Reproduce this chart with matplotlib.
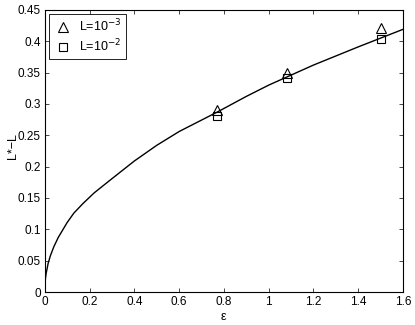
import numpy as np
import matplotlib
matplotlib.use("Agg")
import matplotlib.pyplot as plt
from matplotlib.ticker import FormatStrFormatter

# curve (eps vs L*-L)
curve_eps = [0, 0.001, 0.003, 0.006, 0.01, 0.015, 0.025, 0.04, 0.06, 0.08,
             0.1, 0.13, 0.17, 0.22, 0.29, 0.4, 0.5, 0.6, 0.77, 0.9, 1.0,
             1.2, 1.4, 1.6]
curve_val = [0, 0.013, 0.022, 0.030, 0.037, 0.046, 0.058, 0.072, 0.087,
             0.099, 0.111, 0.126, 0.141, 0.158, 0.178, 0.209, 0.234, 0.256,
             0.287, 0.312, 0.330, 0.362, 0.391, 0.419]

# markers
pts_eps = [0.77, 1.08, 1.50]
tri_val = [0.291, 0.350, 0.421]
sq_val = [0.281, 0.341, 0.403]

plt.rcParams['font.family'] = ['Liberation Sans', 'DejaVu Sans']
plt.rcParams['font.size'] = 9

fig = plt.figure(figsize=(4.15, 3.25), dpi=100)
ax = fig.add_axes([0.108, 0.1015, 0.863, 0.868])

ax.plot(curve_eps, curve_val, color='black', lw=1.0)
ax.plot(pts_eps, tri_val, linestyle='none', marker='^', ms=7, mfc='none',
        mec='black', mew=0.8, label=r'L=10$^{-3}$')
ax.plot(pts_eps, sq_val, linestyle='none', marker='s', ms=6, mfc='none',
        mec='black', mew=0.8, label=r'L=10$^{-2}$')

ax.set_xlim(0, 1.6)
ax.set_ylim(0, 0.45)
ax.set_xticks(np.arange(0, 1.61, 0.2))
ax.set_yticks(np.arange(0, 0.451, 0.05))
ax.xaxis.set_major_formatter(FormatStrFormatter('%g'))
ax.yaxis.set_major_formatter(FormatStrFormatter('%g'))
ax.tick_params(direction='in', top=True, right=True, length=3, width=0.5,
               labelsize=8.5, pad=3)
for s in ax.spines.values():
    s.set_linewidth(0.8)

ax.set_xlabel('ε', fontsize=9, va='center')
ax.set_ylabel('L*−L', fontsize=9, va='center')
ax.xaxis.set_label_coords(0.5, -0.09)
ax.yaxis.set_label_coords(-0.09, 0.518)

leg = ax.legend(loc='upper left', fontsize=9, fancybox=False,
                edgecolor='black', framealpha=1, borderaxespad=0.3,
                handlelength=1.6, handletextpad=0.5, borderpad=0.35,
                labelspacing=0.25)
leg.get_frame().set_linewidth(0.6)

fig.savefig('out.png', dpi=100)
